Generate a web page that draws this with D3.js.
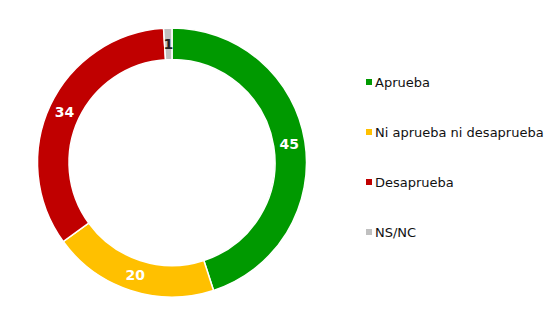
<!DOCTYPE html>
<html>
<head>
<meta charset="utf-8">
<script src="https://cdn.jsdelivr.net/npm/d3@7"></script>
<style>
  body { margin: 0; background: #fff; }
  text { font-family: "DejaVu Sans", Verdana, sans-serif; }
</style>
</head>
<body>
<div id="chart"></div>
<script>
// donut of approval shares
var categories = ["Aprueba", "Ni aprueba ni desaprueba", "Desaprueba", "NS/NC"];
var values = [45, 20, 34, 1];
var colors = ["#009900", "#ffc000", "#c00000", "#c0c0c0"];
var labelColors = ["#fff", "#fff", "#fff", "#222"];

(function() {
  var width = 559, height = 317;
  var cx = 172, cy = 162.5,
      outer = 134.5, inner = 103;

  var svg = d3.select("#chart")
    .append("svg")
    .attr("width", width)
    .attr("height", height);

  var data = categories.map(function(c, i) {
    return { name: c, value: values[i], color: colors[i], lc: labelColors[i] };
  });

  var pie = d3.pie()
    .sort(null)
    .value(function(d) { return d.value; });

  var arc = d3.arc()
    .innerRadius(inner)
    .outerRadius(outer);

  var labelArc = d3.arc()
    .innerRadius((inner + outer) / 2)
    .outerRadius((inner + outer) / 2);

  var g = svg.append("g")
    .attr("transform", "translate(" + cx + "," + cy + ")");

  var slices = g.selectAll(".slice")
    .data(pie(data))
    .enter().append("g")
    .attr("class", "slice");

  slices.append("path")
    .attr("d", arc)
    .attr("fill", function(d) { return d.data.color; })
    .attr("stroke", "#fff")
    .attr("stroke-width", 1.5);

  slices.append("text")
    .attr("transform", function(d) { return "translate(" + labelArc.centroid(d) + ")"; })
    .attr("text-anchor", "middle")
    .attr("dy", "0.36em")
    .attr("font-size", "14px")
    .attr("font-weight", "bold")
    .attr("fill", function(d) { return d.data.lc; })
    .text(function(d) { return d.data.value; });

  // legend
  var legendY = d3.scaleBand()
    .domain(categories)
    .range([57, 257]);

  var legend = svg.selectAll(".legend")
    .data(data)
    .enter().append("g")
    .attr("class", "legend")
    .attr("transform", function(d) {
      return "translate(366," + (legendY(d.name) + legendY.bandwidth() / 2) + ")";
    });

  legend.append("rect")
    .attr("x", 0)
    .attr("y", -3)
    .attr("width", 6)
    .attr("height", 6)
    .attr("fill", function(d) { return d.color; });

  legend.append("text")
    .attr("x", 9)
    .attr("dy", "0.36em")
    .attr("font-size", "13px")
    .attr("fill", "#111")
    .text(function(d) { return d.name; });
})();
</script>
</body>
</html>
